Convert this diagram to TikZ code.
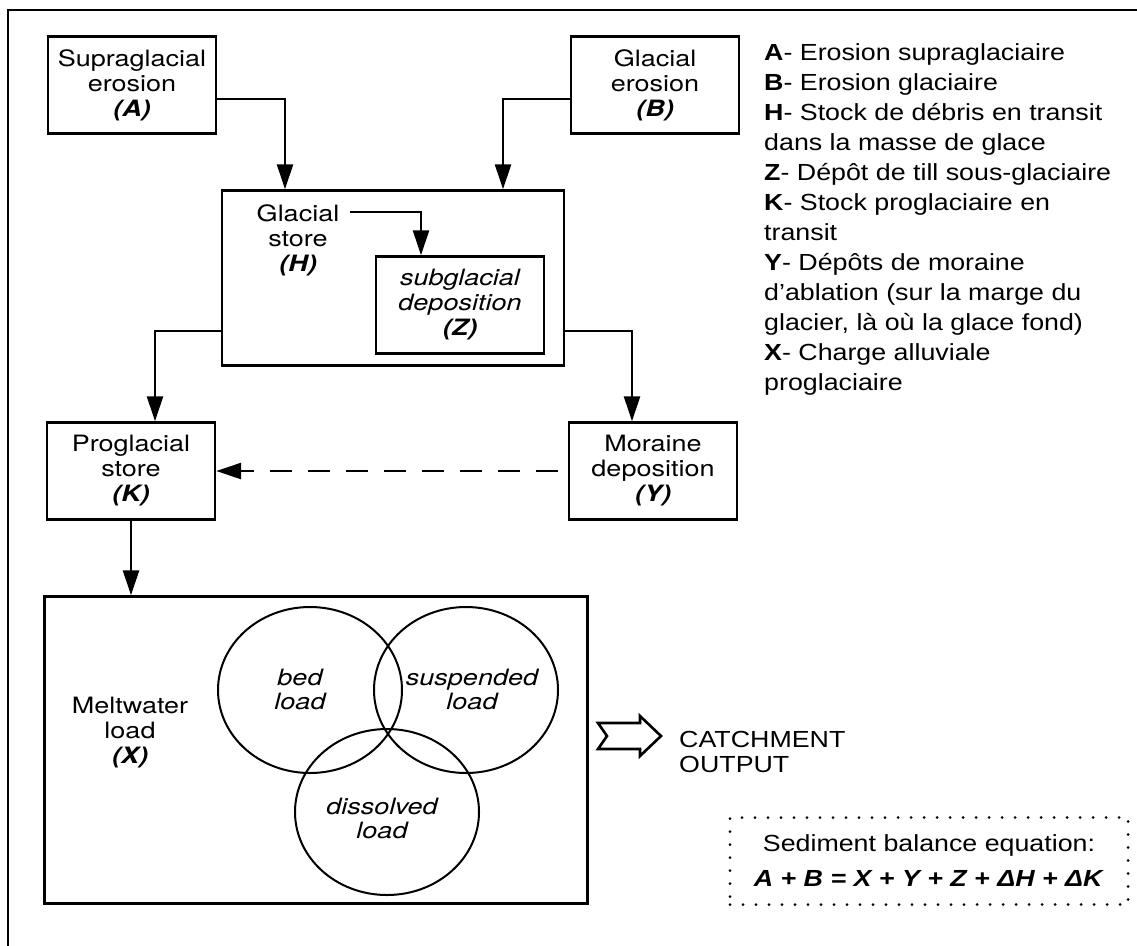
\documentclass[tikz,border=0pt]{standalone}
\usepackage{fontspec}
\setmainfont{Liberation Sans}
\newfontfamily\legfont[FakeStretch=1.15]{Liberation Sans}
\newfontfamily\boxfont[FakeStretch=1.2]{TeX Gyre Heros}
\usetikzlibrary{arrows.meta,shapes.geometric}

\begin{document}
\begin{tikzpicture}[x=1pt,y=-1pt,>={Triangle[length=25pt,width=16pt]},line width=2.4pt,
    box/.style={draw,rectangle,inner sep=0pt,align=center,minimum width=168pt,minimum height=97pt,
      font=\boxfont\fontsize{22.5}{25}\selectfont},
    ibox/.style={box,font=\boxfont\itshape\fontsize{22.5}{25}\selectfont},
    lbl/.style={inner sep=0pt,align=center,font=\boxfont\fontsize{22.5}{25}\selectfont},
    itlbl/.style={lbl,font=\boxfont\itshape\fontsize{22.5}{24}\selectfont},
    lobe/.style={draw,ellipse,line width=2pt,inner sep=0pt,minimum width=184pt,minimum height=166pt},
    legend/.style={inner sep=0pt,align=left,font=\legfont\fontsize{23.3}{30}\selectfont}]
    \useasboundingbox (0,0) rectangle (1137,945);
    \draw[line width=2.8pt] (1150,10) -- (8,10) -- (8,960);

    % sources and stores
    \node[box] (A) at (132,85) {Supraglacial\\erosion\\\textbf{\textit{(A)}}};
    \node[box] (B) at (655,85) {Glacial\\erosion\\\textbf{\textit{(B)}}};
    \node[draw,inner sep=0pt,minimum width=342pt,minimum height=175pt] (H) at (393,278) {};
    \node[lbl] (Hlbl) at (298,240) {Glacial\\store\\\textbf{\textit{(H)}}};
    \node[ibox] (Z) at (460,305) {subglacial\\deposition\\\textbf{(Z)}};
    \node[box] (K) at (131,471) {Proglacial\\store\\\textbf{\textit{(K)}}};
    \node[box] (Y) at (653,471) {Moraine\\deposition\\\textbf{\textit{(Y)}}};

    % meltwater load
    \node[draw,inner sep=0pt,minimum width=543pt,minimum height=307pt] (X) at (316,750) {};
    \node[lbl] (Xlbl) at (130,733) {Meltwater\\load\\\textbf{\textit{(X)}}};
    \node[lobe] (bed) at (310,690) {};
    \node[lobe] (susp) at (466,690) {};
    \node[lobe] (diss) at (387,812) {};
    \node[itlbl] (bedlbl) at (300,689) {bed\\load};
    \node[itlbl] (susplbl) at (472,689) {suspended\\load};
    \node[itlbl] (disslbl) at (382,818) {dissolved\\load};
    \node[inner sep=0pt,align=left,anchor=west,font=\legfont\fontsize{23.3}{25}\selectfont] (out) at (678,752) {CATCHMENT\\OUTPUT};

    % key and balance
    \node[legend,anchor=north west] (key) at (763,42) {\textbf{A}- Erosion supraglaciaire\\
      \textbf{B}- Erosion glaciaire\\
      \textbf{H}- Stock de débris en transit\\
      dans la masse de glace\\
      \textbf{Z}- Dépôt de till sous-glaciaire\\
      \textbf{K}- Stock proglaciaire en\\
      transit\\
      \textbf{Y}- Dépôts de moraine\\
      d’ablation (sur la marge du\\
      glacier, là où la glace fond)\\
      \textbf{X}- Charge alluviale\\
      proglaciaire};
    \node[draw,line width=3pt,line cap=round,dash pattern=on 0pt off 13pt,inner sep=0pt,
      minimum width=398pt,minimum height=87pt,align=center,
      font=\legfont\fontsize{23.3}{35}\selectfont] (eq) at (929,861)
      {Sediment balance equation:\\\textbf{\textit{A + B = X + Y + Z + ΔH + ΔK}}};

    \draw[->] ([yshift=-14pt]A.east) -| ([xshift=-108pt]H.north);
    \draw[->] ([yshift=-14pt]B.west) -| ([xshift=110pt]H.north);
    \draw[->] ([xshift=10pt,yshift=-9pt]Hlbl.north east) -| ([xshift=-39pt]Z.north);
    \draw[->] ([yshift=-53pt]H.west) -| ([xshift=24pt]K.north);
    \draw[->] ([yshift=-53pt]H.east) -| ([xshift=-21pt]Y.north);
    \draw[->,dash pattern=on 22pt off 16pt] ([xshift=-10pt]Y.west) -- (K.east);
    \draw[->] (K.south) -- (K.south |- X.north);
    \draw[line width=2.6pt,line join=miter] (598,723) -- (640,723) -- (640,716) -- (661,736)
      -- (640,756) -- (640,749) -- (598,749) -- (607,736) -- cycle;
\end{tikzpicture}
\end{document}
